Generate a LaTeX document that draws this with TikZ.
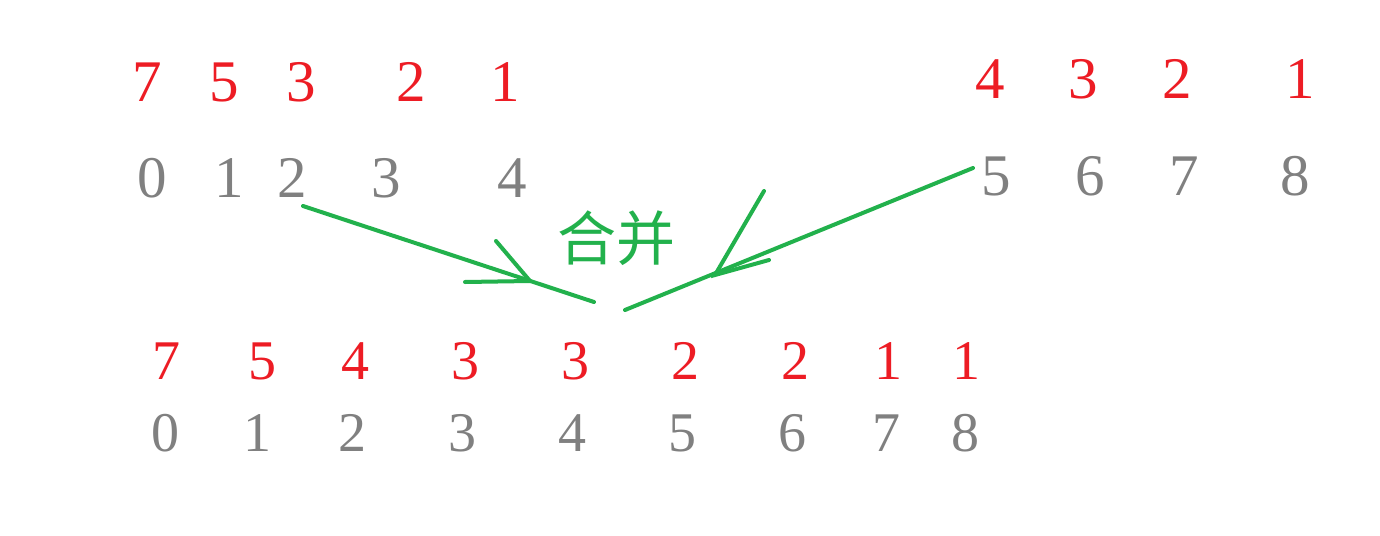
\documentclass[tikz,border=0pt]{standalone}
\usepackage{fontspec}
\setmainfont{Liberation Serif}
\newfontfamily\cjk{Noto Sans CJK SC}
\definecolor{numred}{HTML}{ED1C24}
\definecolor{idxgray}{HTML}{808080}
\definecolor{mgreen}{HTML}{22B14C}
\begin{document}
\begin{tikzpicture}[x=1pt,y=-1pt,
  big/.style={inner sep=0pt,anchor=base,font=\fontsize{59}{60}\selectfont},
  small/.style={inner sep=0pt,anchor=base,font=\fontsize{56}{58}\selectfont},
  val/.style={text=numred},
  idx/.style={text=idxgray},
  gline/.style={draw=mgreen,line width=4pt,line cap=round}]
\useasboundingbox[fill=white] (0,0) rectangle (1380,535);
% top-left values
\node[big,val] (a0) at (147,101) {7};
\node[big,val] (a1) at (224,101) {5};
\node[big,val] (a2) at (301,101) {3};
\node[big,val] (a3) at (411,101) {2};
\node[big,val] (a4) at (505,101) {1};
% top-right values
\node[big,val] (b0) at (990,98) {4};
\node[big,val] (b1) at (1083,98) {3};
\node[big,val] (b2) at (1177,98) {2};
\node[big,val] (b3) at (1300,98) {1};
% top indices
\node[big,idx] (i0) at (152,197) {0};
\node[big,idx] (i1) at (229,197) {1};
\node[big,idx] (i2) at (292,197) {2};
\node[big,idx] (i3) at (386,197) {3};
\node[big,idx] (i4) at (512,197) {4};
\node[big,idx] (i5) at (996,195) {5};
\node[big,idx] (i6) at (1090,195) {6};
\node[big,idx] (i7) at (1184,195) {7};
\node[big,idx] (i8) at (1295,195) {8};
% merged values
\node[small,val] (m0) at (166,379) {7};
\node[small,val] (m1) at (262,379) {5};
\node[small,val] (m2) at (355,379) {4};
\node[small,val] (m3) at (465,379) {3};
\node[small,val] (m4) at (575,379) {3};
\node[small,val] (m5) at (685,379) {2};
\node[small,val] (m6) at (795,379) {2};
\node[small,val] (m7) at (888,379) {1};
\node[small,val] (m8) at (966,379) {1};
% merged indices
\node[small,idx] (n0) at (165,451) {0};
\node[small,idx] (n1) at (257,451) {1};
\node[small,idx] (n2) at (352,451) {2};
\node[small,idx] (n3) at (462,451) {3};
\node[small,idx] (n4) at (572,451) {4};
\node[small,idx] (n5) at (682,451) {5};
\node[small,idx] (n6) at (792,451) {6};
\node[small,idx] (n7) at (886,451) {7};
\node[small,idx] (n8) at (965,451) {8};
% label
\node[inner sep=0pt,text=mgreen,font=\cjk\fontsize{59}{60}\selectfont] (lbl) at (616,238) {合并};
% arrows (hand drawn)
\coordinate (s1) at (303,206);
\coordinate (e1) at (594,302);
\coordinate (h1) at (530,281);
\coordinate (h1a) at (496,241);
\coordinate (h1b) at (465,282);
\coordinate (s2) at (973,168);
\coordinate (e2) at (625,310);
\coordinate (h2) at (715,275);
\coordinate (h2a) at (764,191);
\coordinate (h2b) at (769,260);
\draw[gline] (s1) -- (e1);
\draw[gline] (h1a) -- (h1) -- (h1b);
\draw[gline] (s2) -- (e2);
\draw[gline] (h2a) -- (h2) -- (h2b);
\end{tikzpicture}
\end{document}
